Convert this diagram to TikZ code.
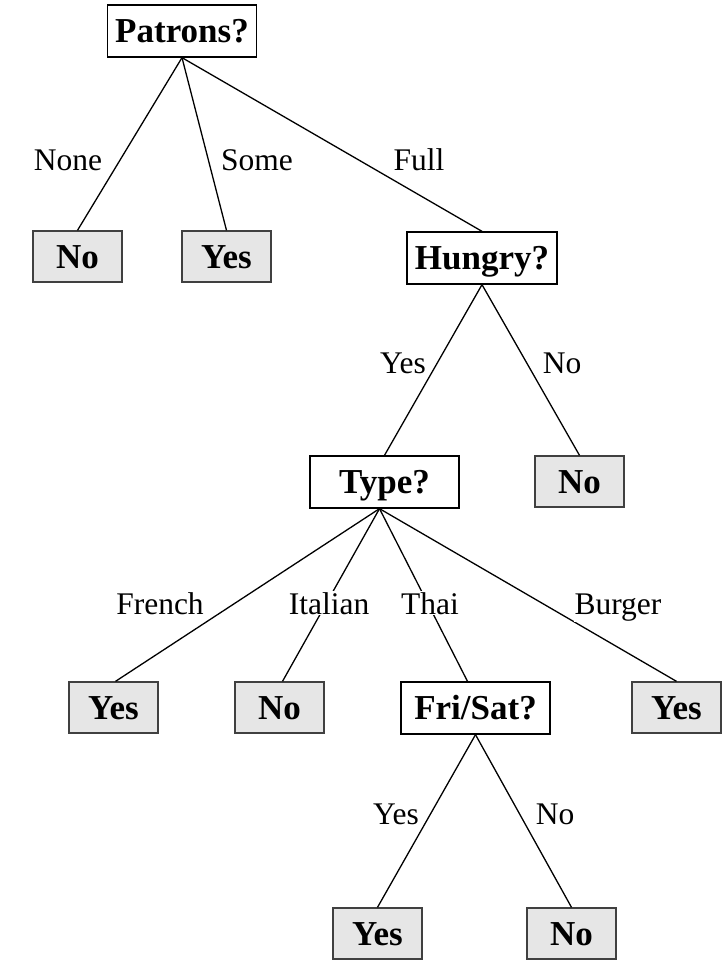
\documentclass[tikz,border=0pt]{standalone}
\usepackage{fontspec}
\setmainfont{Liberation Serif}
\usetikzlibrary{calc}
\definecolor{leafgray}{HTML}{E6E6E6}
\definecolor{leafborder}{HTML}{404040}
\begin{document}
\begin{tikzpicture}[x=1pt,y=-1pt,
  attr/.style={draw=black,line width=1.3pt,fill=white,minimum width=149pt,minimum height=52pt,inner sep=0pt,text height=23pt,text depth=0pt,font=\fontsize{35}{37}\selectfont\bfseries},
  leaf/.style={draw=leafborder,line width=1.3pt,fill=leafgray,minimum width=89pt,minimum height=51pt,inner sep=0pt,text height=23pt,text depth=0pt,font=\fontsize{35}{37}\selectfont\bfseries},
  lbl/.style={fill=white,inner sep=1pt,anchor=base,font=\fontsize{31.5}{33}\selectfont},
  edge/.style={draw=black,line width=1.3pt}]
\useasboundingbox (0,0) rectangle (726,961);
% nodes
\node[attr] (pat) at (182,31) {Patrons?};
\node[leaf] (no1) at (77.5,256.5) {No};
\node[leaf] (yes1) at (226.5,256.5) {Yes};
\node[attr,minimum width=150pt] (hun) at (482,258) {Hungry?};
\node[attr] (typ) at (384.5,482) {Type?};
\node[leaf] (no2) at (579.5,481.5) {No};
\node[leaf] (yes2) at (113.5,707.5) {Yes};
\node[leaf] (no3) at (279.5,707.5) {No};
\node[attr] (fs) at (475.5,708) {Fri/Sat?};
\node[leaf] (yes3) at (676.5,707.5) {Yes};
\node[leaf] (yes4) at (377.5,933.5) {Yes};
\node[leaf] (no4) at (571.5,933.5) {No};
% edges
\draw[edge] (pat.south) -- (no1.north);
\draw[edge] (pat.south) -- (yes1.north);
\draw[edge] (pat.south) -- (hun.north);
\draw[edge] (hun.south) -- (typ.north);
\draw[edge] (hun.south) -- (no2.north);
\coordinate (tb) at ($(typ.south)+(-5,0)$);
\draw[edge] (tb) -- ($(yes2.north)+(2,0)$);
\draw[edge] (tb) -- ($(no3.north)+(3,0)$);
\draw[edge] (tb) -- ($(fs.north)+(-8,0)$);
\draw[edge] (tb) -- (yes3.north);
\draw[edge] (fs.south) -- (yes4.north);
\draw[edge] (fs.south) -- (no4.north);
% labels
\node[lbl] (lnone) at (68,170) {None};
\node[lbl] (lsome) at (257,170) {Some};
\node[lbl] (lfull) at (419,170) {Full};
\node[lbl] (lhy) at (403,373) {Yes};
\node[lbl] (lhn) at (562,373) {No};
\node[lbl] (lfr) at (160,614) {French};
\node[lbl] (lit) at (329,614) {Italian};
\node[lbl] (lth) at (430,614) {Thai};
\node[lbl] (lbu) at (618,614) {Burger};
\node[lbl] (lfy) at (396,824) {Yes};
\node[lbl] (lfn) at (555,824) {No};
\end{tikzpicture}
\end{document}
